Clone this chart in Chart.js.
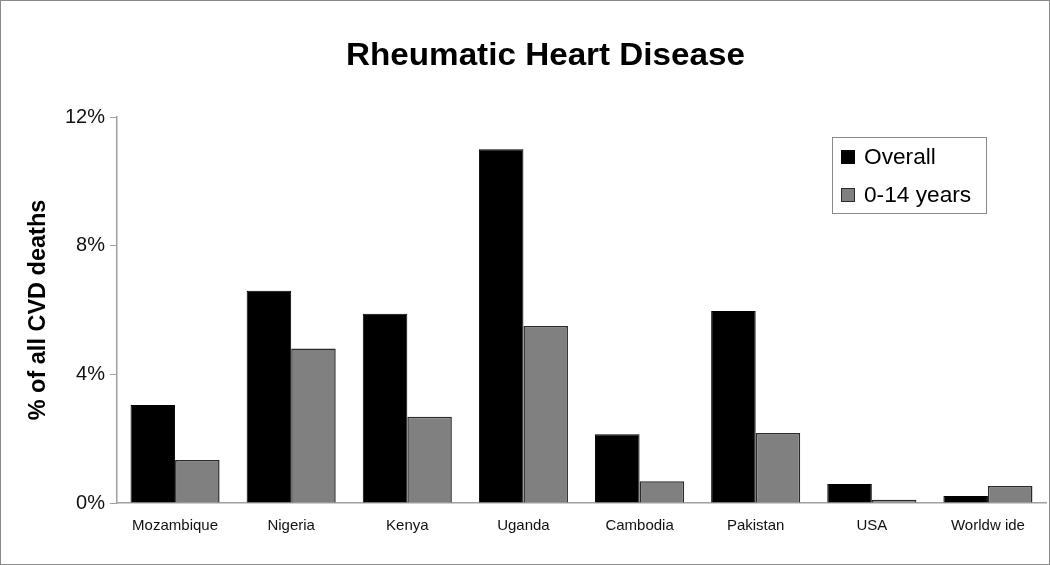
<!DOCTYPE html>
<html>
<head>
<meta charset="utf-8">
<script src="https://cdn.jsdelivr.net/npm/chart.js@4.4.1/dist/chart.umd.min.js"></script>
<style>
html,body{margin:0;padding:0;background:#fff;}
#wrap{width:1050px;height:565px;position:relative;}
</style>
</head>
<body>
<div id="wrap"><canvas id="c" width="1050" height="565"></canvas></div>
<script>
const categories = ["Mozambique","Nigeria","Kenya","Uganda","Cambodia","Pakistan","USA","Worldw ide"];
const overall = [3.05, 6.6, 5.88, 11.0, 2.14, 5.97, 0.59, 0.22];
const children = [1.34, 4.8, 2.68, 5.5, 0.68, 2.18, 0.1, 0.53];
const seriesNames = ["Overall", "0-14 years"];
const yTicks = [0, 4, 8, 12];
const chartTitle = "Rheumatic Heart Disease";
const yTitle = "% of all CVD deaths";

const FONT = "'Liberation Sans', Arial, sans-serif";

const decor = {
  id: 'decor',
  afterDraw(chart) {
    const ctx = chart.ctx;
    ctx.save();
    // outer border
    ctx.strokeStyle = '#8a8a8a';
    ctx.lineWidth = 1;
    ctx.strokeRect(0.5, 0.5, chart.width - 1, chart.height - 1);
    // title
    ctx.fillStyle = '#000';
    ctx.font = 'bold 31px ' + FONT;
    ctx.textAlign = 'center';
    ctx.textBaseline = 'middle';
    const tw = ctx.measureText(chartTitle).width;
    ctx.save();
    ctx.translate(545.5, 56);
    ctx.scale(399 / tw, 1);
    ctx.fillText(chartTitle, 0, 0);
    ctx.restore();
    // legend
    const lx = 832, ly = 137, lw = 154, lh = 76;
    ctx.fillStyle = '#fff';
    ctx.fillRect(lx, ly, lw, lh);
    ctx.strokeStyle = '#8a8a8a';
    ctx.strokeRect(lx + 0.5, ly + 0.5, lw, lh);
    ctx.font = '22.7px ' + FONT;
    ctx.textAlign = 'left';
    chart.data.datasets.forEach((ds, i) => {
      const cy = 157 + i * 38;
      ctx.fillStyle = ds.backgroundColor;
      ctx.fillRect(841, cy - 7, 14, 14);
      ctx.strokeStyle = ds.borderColor;
      ctx.strokeRect(841.5, cy - 6.5, 13, 13);
      ctx.fillStyle = '#000';
      ctx.fillText(ds.label, 864, cy + 1);
    });
    ctx.restore();
  }
};

new Chart(document.getElementById('c'), {
  type: 'bar',
  data: {
    labels: categories,
    datasets: [
      { label: seriesNames[0], data: overall, backgroundColor: '#000000', borderColor: '#000000', borderWidth: 1 },
      { label: seriesNames[1], data: children, backgroundColor: '#808080', borderColor: '#2a2a2a', borderWidth: 1.5 }
    ]
  },
  options: {
    responsive: false,
    animation: false,
    devicePixelRatio: 1,
    layout: { padding: { top: 117, right: 4, bottom: 10, left: 0 } },
    plugins: { legend: { display: false }, title: { display: false }, tooltip: { enabled: false } },
    datasets: { bar: { categoryPercentage: 0.767, barPercentage: 1.0 } },
    scales: {
      x: {
        grid: { display: false, drawTicks: false },
        border: { color: '#a0a0a0', width: 1.5 },
        ticks: { color: '#111', font: { family: FONT, size: 15 }, padding: 14, maxRotation: 0 },
        afterFit(s) { s.height = 52; }
      },
      y: {
        min: 0, max: 12,
        afterBuildTicks(s) { s.ticks = yTicks.map(v => ({ value: v })); },
        grid: { drawOnChartArea: false, drawTicks: true, tickLength: 7, color: '#a0a0a0' },
        border: { color: '#a0a0a0', width: 1.5 },
        ticks: { color: '#111', font: { family: FONT, size: 20 }, padding: 5, callback: v => v + '%' },
        title: { display: true, text: yTitle, color: '#000', font: { family: FONT, size: 23.5, weight: 'bold' }, padding: { top: 24, bottom: 0 } },
        afterFit(s) { s.width = 117; }
      }
    }
  },
  plugins: [decor]
});
</script>
</body>
</html>
